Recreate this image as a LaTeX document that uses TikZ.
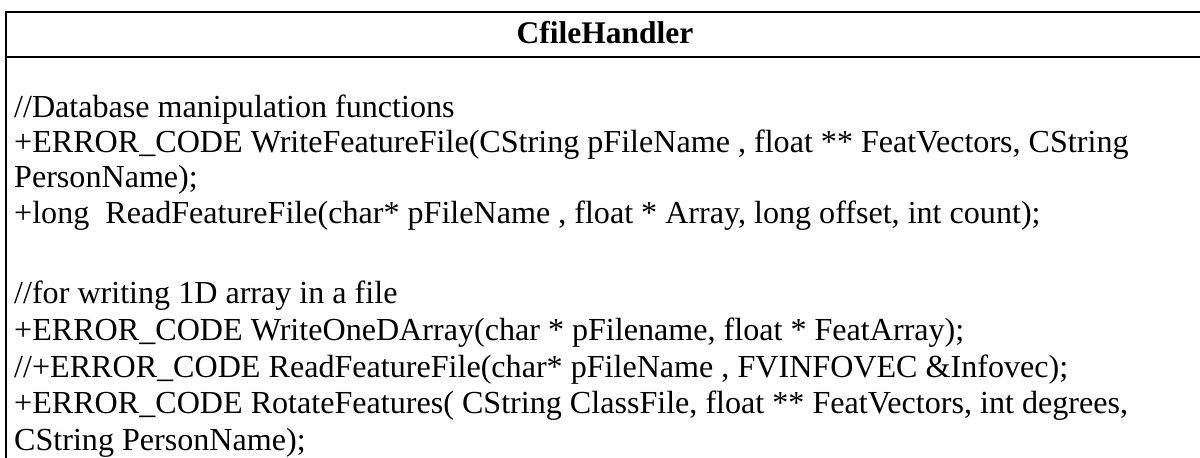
\documentclass[tikz,border=0pt]{standalone}
\usepackage{fontspec}
\setmainfont{Liberation Serif}
\begin{document}
\begin{tikzpicture}[x=1pt,y=-1pt,
  rule/.style={line width=2pt,line cap=rect},
  member/.style={anchor=base west,inner sep=0pt,font=\fontsize{32.1}{36}\selectfont},
  title/.style={anchor=base,inner sep=0pt,font=\fontsize{31.5}{36}\selectfont\bfseries}]
\useasboundingbox (0,0) rectangle (1200,458);
\clip (0,0) rectangle (1200,458);
% class box: frame open past the right and bottom edges
\coordinate (bl) at (6,470);
\coordinate (tl) at (6,11.5);
\coordinate (tr) at (1215,11.5);
\coordinate (hl) at (6,57);
\coordinate (hr) at (1215,57);
\draw[rule] (bl) -- (tl) -- (tr);
\draw[rule] (hl) -- (hr);
% class name
\node[title] (name) at (605,43) {CfileHandler};
% operations
\node[member] (c1) at (14,117) {//Database manipulation functions};
\node[member] (m1) at (14,152) {+ERROR\_CODE WriteFeatureFile(CString pFileName , float ** FeatVectors, CString};
\node[member] (m1b) at (14,187) {PersonName);};
\node[member] (m2) at (14,223) {+long\ \ ReadFeatureFile(char* pFileName , float * Array, long offset, int count);};
\node[member] (c2) at (14,303) {//for writing 1D array in a file};
\node[member] (m3) at (14,340) {+ERROR\_CODE WriteOneDArray(char * pFilename, float * FeatArray);};
\node[member] (m4) at (14,377) {//+ERROR\_CODE ReadFeatureFile(char* pFileName , FVINFOVEC \&Infovec);};
\node[member] (m5) at (14,413) {+ERROR\_CODE RotateFeatures( CString ClassFile, float ** FeatVectors, int degrees,};
\node[member] (m5b) at (14,450) {CString PersonName);};
\end{tikzpicture}
\end{document}
